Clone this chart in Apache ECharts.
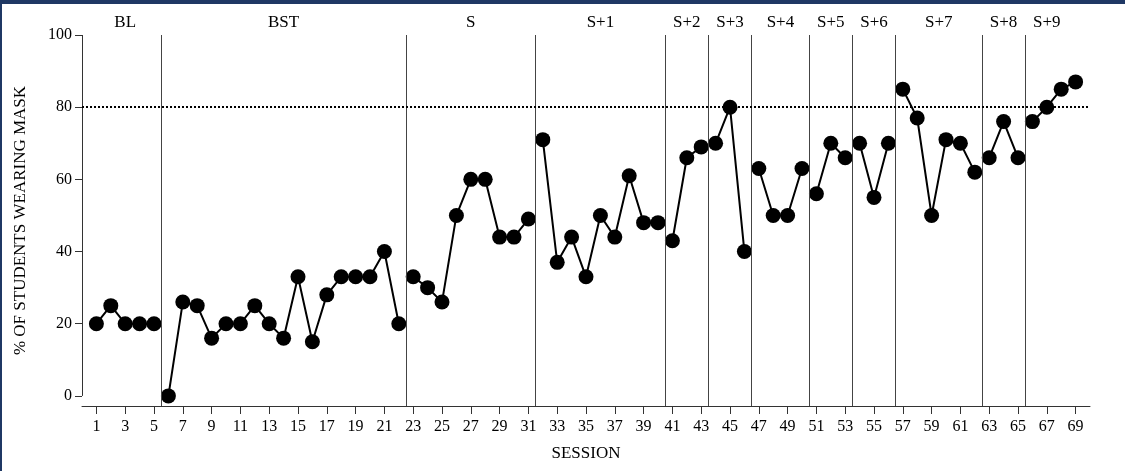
<!DOCTYPE html>
<html>
<head>
<meta charset="utf-8">
<script src="https://cdn.jsdelivr.net/npm/echarts@6/dist/echarts.min.js"></script>
<style>
  body { margin: 0; background: #fff; }
  #wrap { position: relative; width: 1125px; height: 471px; }
  #chart { width: 1125px; height: 471px; }
  #frame {
    position: absolute; left: 0; top: 0; right: 0; bottom: 0;
    border-top: 4px solid #1f3864; border-left: 2px solid #1f3864;
    pointer-events: none;
  }
</style>
</head>
<body>
<div id="wrap">
  <div id="chart"></div>
  <div id="frame"></div>
</div>
<script>
// phases: name, number of sessions, where its label sits
const phaseNames = ['BL', 'BST', 'S', 'S+1', 'S+2', 'S+3', 'S+4', 'S+5', 'S+6', 'S+7', 'S+8', 'S+9'];
const phaseLengths = [5, 17, 9, 9, 3, 3, 4, 3, 3, 6, 3, 4];
const phaseLabelAt = [3, 14, 27, 36, 42, 45, 48.5, 52, 55, 59.5, 64, 67];

// % of students wearing a mask, sessions 1..69
const maskPct = [
  20, 25, 20, 20, 20,
  0, 26, 25, 16, 20, 20, 25, 20, 16, 33, 15, 28, 33, 33, 33, 40, 20,
  33, 30, 26, 50, 60, 60, 44, 44, 49,
  71, 37, 44, 33, 50, 44, 61, 48, 48,
  43, 66, 69,
  70, 80, 40,
  63, 50, 50, 63,
  56, 70, 66,
  70, 55, 70,
  85, 77, 50, 71, 70, 62,
  66, 76, 66,
  76, 80, 85, 87
];

const xTicks = [];
for (let s = 1; s <= 69; s += 2) xTicks.push(s);
const yTicks = [0, 20, 40, 60, 80, 100];
const criterion = 80;

const font = "'Liberation Serif', 'Times New Roman', serif";
const chart = echarts.init(document.getElementById('chart'));

// split the sessions into one line per phase, and find the phase change lines
const series = [];
const boundaries = [];
let start = 0;
phaseLengths.forEach((len, i) => {
  const pts = [];
  for (let k = start; k < start + len; k++) pts.push([k + 1, maskPct[k]]);
  start += len;
  if (i < phaseLengths.length - 1) boundaries.push(start + 0.5);
  series.push({
    type: 'line',
    data: pts,
    symbol: 'circle',
    symbolSize: 15,
    lineStyle: { color: '#000', width: 2 },
    itemStyle: { color: '#000' },
    silent: true,
    z: 3
  });
});

const lineMarks = boundaries.map(b => [
  { coord: [b, -2.8], lineStyle: { color: '#444', width: 1, type: 'solid' } },
  { coord: [b, 100] }
]);
lineMarks.push([
  { coord: [0, 0], lineStyle: { color: '#333', width: 1, type: 'solid' } },
  { coord: [0, 100] }
]);
lineMarks.push([
  { coord: [0, criterion], lineStyle: { color: '#000', width: 2, type: [2, 2] } },
  { coord: [70, criterion] }
]);
series[0].markLine = {
  silent: true,
  symbol: 'none',
  animation: false,
  label: { show: false },
  data: lineMarks
};

const labelFor = {};
phaseLabelAt.forEach((v, i) => { labelFor[v] = phaseNames[i]; });

chart.setOption({
  animation: false,
  textStyle: { fontFamily: font },
  grid: { left: 82, right: 35, top: 35, bottom: 65 },
  xAxis: [
    {
      type: 'value',
      min: 0,
      max: 70,
      name: 'SESSION',
      nameLocation: 'middle',
      nameGap: 39,
      nameTextStyle: { fontFamily: font, fontSize: 17, color: '#000' },
      splitLine: { show: false },
      axisLine: { onZero: false, lineStyle: { color: '#333', width: 1 } },
      axisTick: { customValues: xTicks, length: 8, lineStyle: { color: '#333' } },
      axisLabel: { customValues: xTicks, margin: 13, fontFamily: font, fontSize: 16, color: '#000' }
    },
    {
      type: 'value',
      position: 'top',
      min: 0,
      max: 70,
      splitLine: { show: false },
      axisLine: { show: false },
      axisTick: { show: false },
      axisLabel: {
        customValues: phaseLabelAt,
        margin: 4,
        fontFamily: font,
        fontSize: 17,
        color: '#000',
        formatter: v => labelFor[v] || ''
      }
    }
  ],
  yAxis: {
    type: 'value',
    min: -2.8,
    max: 100,
    name: '% OF STUDENTS WEARING MASK',
    nameLocation: 'middle',
    nameGap: 53,
    nameTextStyle: { fontFamily: font, fontSize: 17, color: '#000' },
    splitLine: { show: false },
    axisLine: { show: false },
    axisTick: { show: true, customValues: yTicks, length: 7, lineStyle: { color: '#333' } },
    axisLabel: { customValues: yTicks, margin: 10, fontFamily: font, fontSize: 16, color: '#000' }
  },
  series: series
});
</script>
</body>
</html>
